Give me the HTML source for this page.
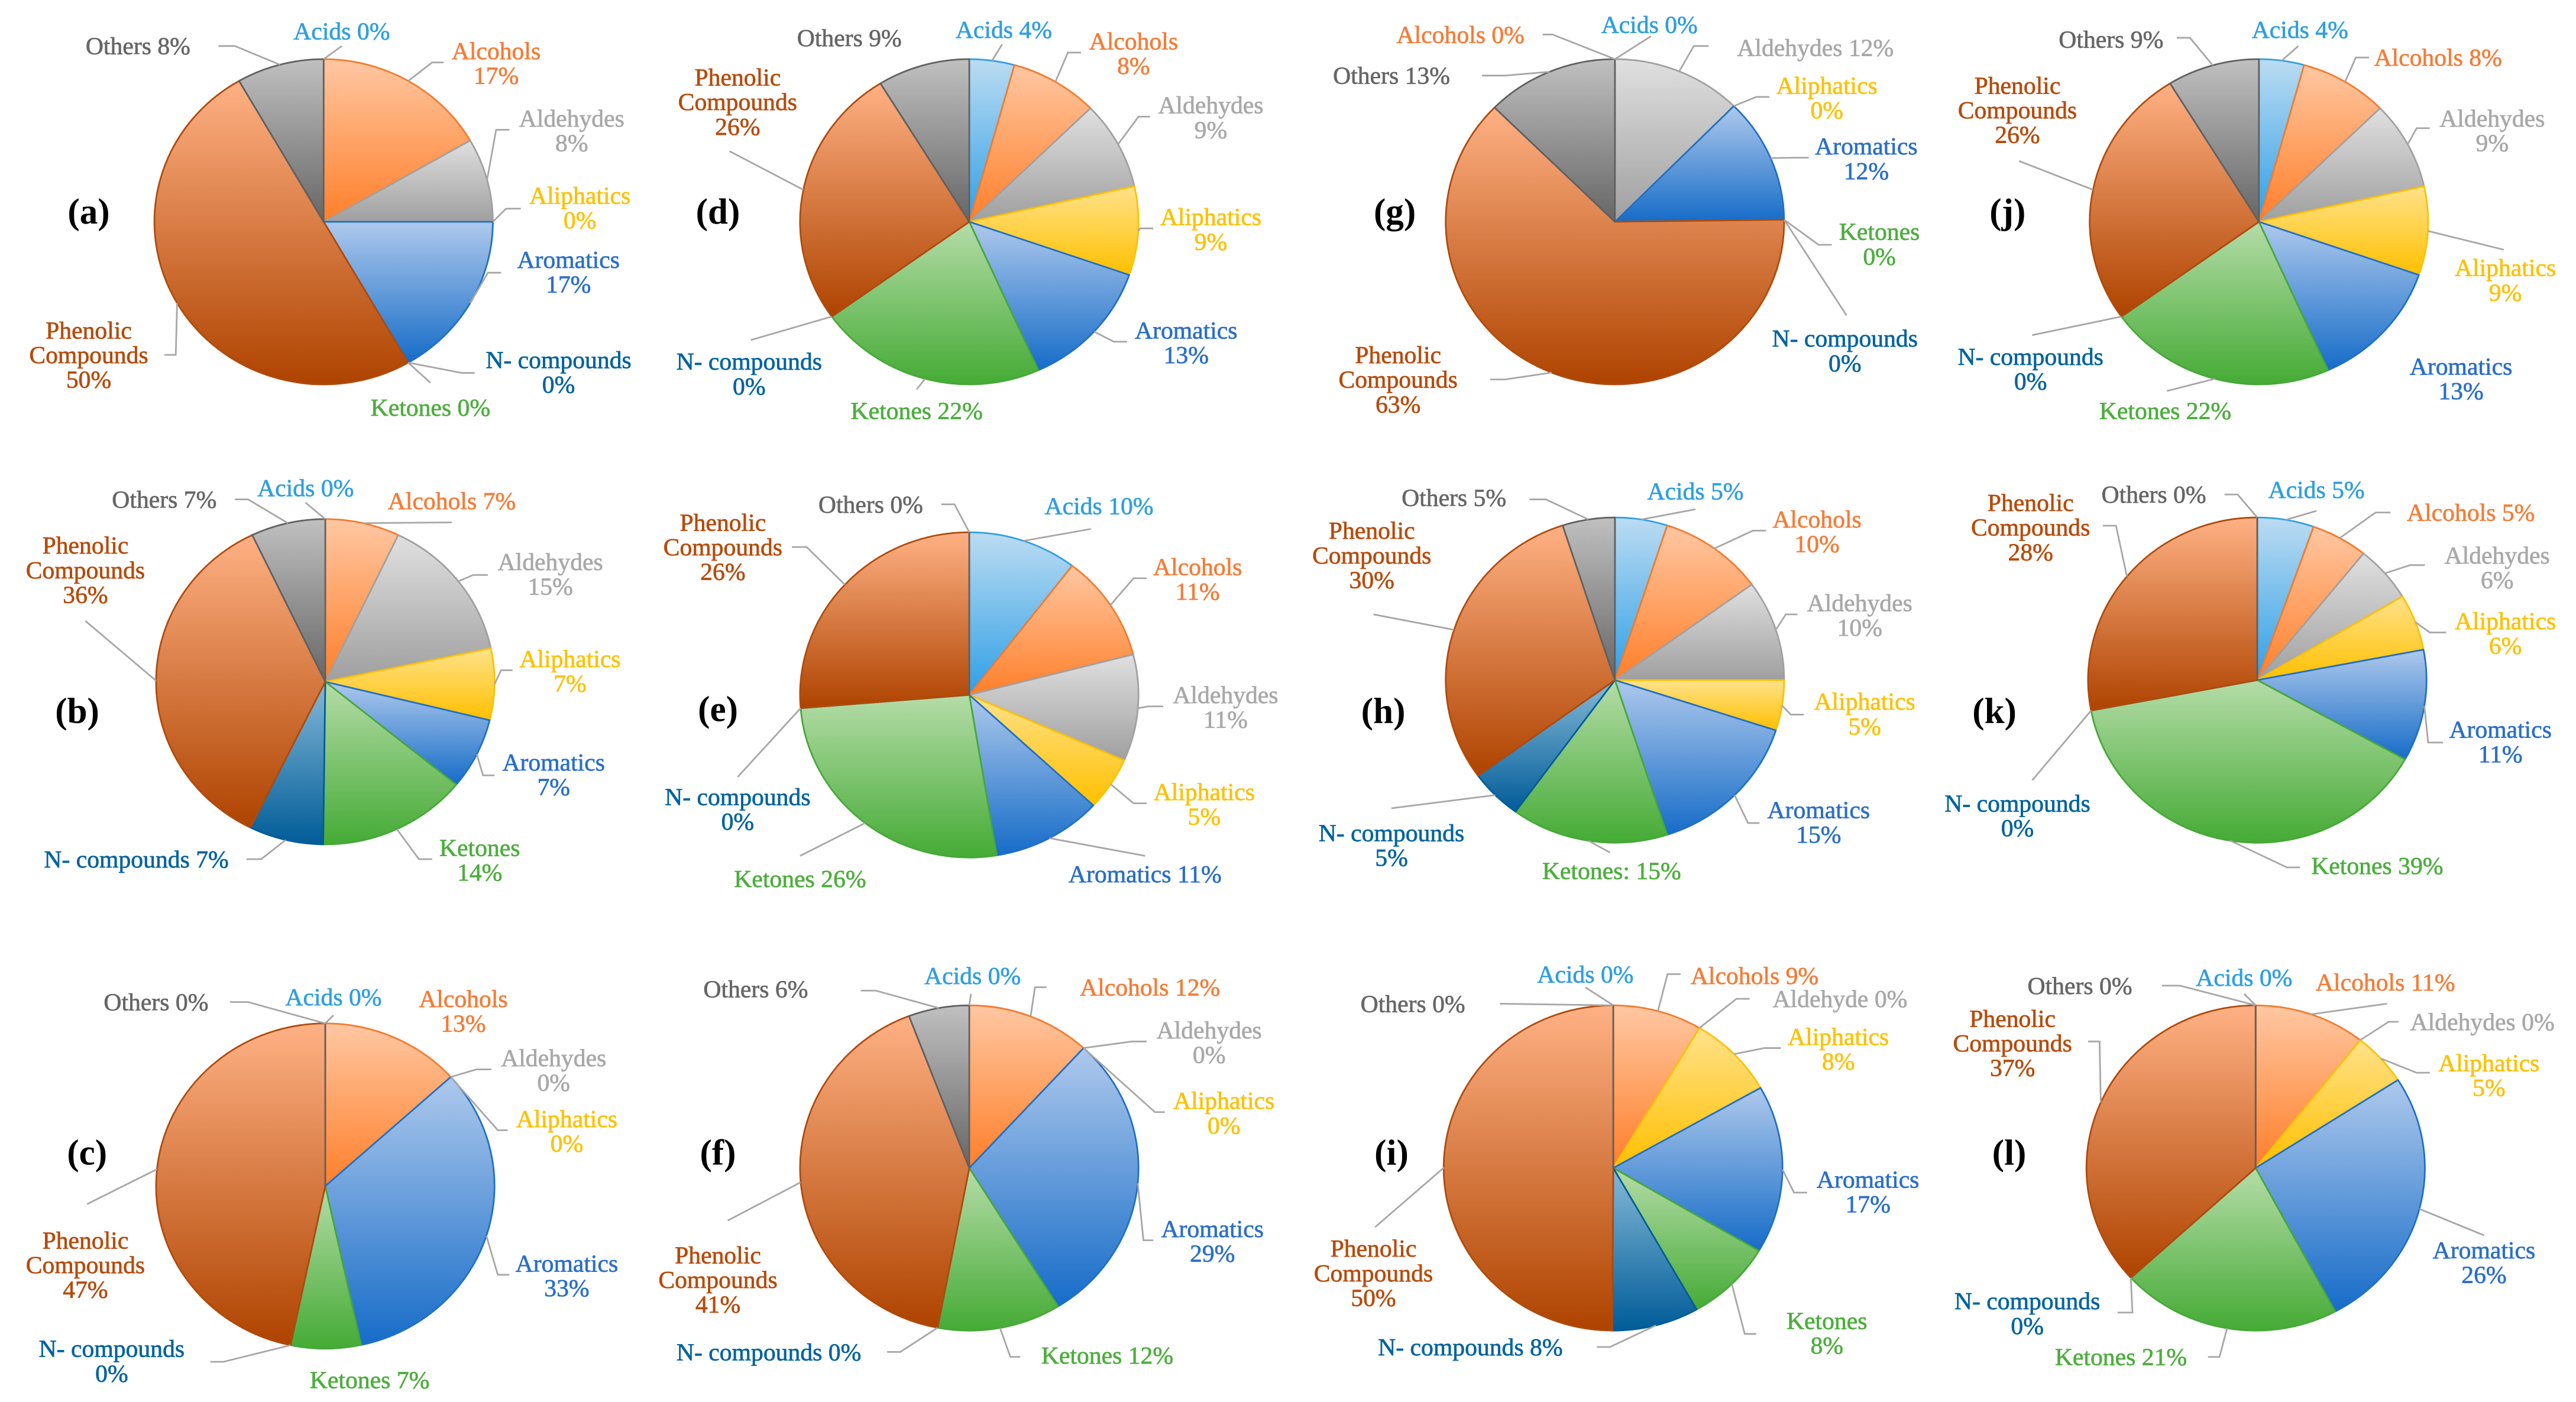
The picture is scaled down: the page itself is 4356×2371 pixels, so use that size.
<!DOCTYPE html>
<html lang="en">
<head>
<meta charset="utf-8">
<title>Product distribution pie charts</title>
<style>
html,body{margin:0;padding:0;background:#fff;}
svg{display:block;}
.lbl{font-family:"Liberation Serif",serif;font-size:15px;text-anchor:middle;stroke-width:.25px;}
.tag{font-family:"Liberation Serif",serif;font-size:22px;font-weight:700;text-anchor:middle;fill:#000;}
</style>
</head>
<body>
<svg id="chart" xmlns="http://www.w3.org/2000/svg" width="4356" height="2371" viewBox="0 0 1568 853.45">
<rect width="1568" height="853.45" fill="#fff"/>
<defs id="defs"></defs>
</svg>
<script>
// ---------- data ----------
const categories = ['Acids','Alcohols','Aldehydes','Aliphatics','Aromatics','Ketones','N- compounds','Phenolic Compounds','Others'];
const panelIds = ['a','b','c','d','e','f','g','h','i','j','k','l'];
const valuesA = [0,16.67,8.33,0,16.67,0,0,50,8.33];
const valuesB = [0,7.1,14.6,7.1,7.1,14.3,7.1,35.6,7.1];
const valuesC = [0,13.3,0,0,33.3,6.7,0,46.7,0];
const valuesD = [4.3,8.4,8.8,8.8,13,21.8,0,26.1,8.8];
const valuesE = [10.4,10.6,10.6,5.3,10.5,26.3,0,26.3,0];
const valuesF = [0,11.8,0,0,29.4,11.8,0,41.2,5.8];
const valuesG = [0,0,12.4,0,12.4,0,0,62.6,12.6];
const valuesH = [5,10,10,5,15,15,5,30,5];
const valuesI = [0,8.5,0,8.3,16.7,8.3,8.3,49.9,0];
const valuesJ = [4.3,8.4,8.8,8.8,13,21.8,0,26.1,8.8];
const valuesK = [5.4,5.4,5.6,5.6,11.1,38.9,0,28,0];
const valuesL = [0,10.6,0,5.3,26.3,21,0,36.8,0];
const nameOverrides = {h:{5:'Ketones:'}, i:{2:'Aldehyde'}};

// ---------- styling ----------
const gradientTops    = ['#bcdcf2','#ffc7a2','#e0e0e0','#ffe28a','#aec9ec','#b5dca8','#86b9d8','#ffb184','#c0c0c0'];
const gradientBottoms = ['#2f9fe6','#ff7f2a','#9f9f9f','#ffc000','#166cc8','#45ab35','#005c98','#ae4300','#666666'];
const sliceStrokes    = ['#2f9fe6','#f57a2c','#a0a0a0','#ffc000','#1f6fc8','#47a838','#005c98','#b04a0c','#606060'];
const labelColors     = ['#2f9fe0','#f57c37','#a8a8a8','#ffc000','#2a6fc9','#4cae3d','#00639f','#b84a0a','#666666'];

// ---------- layout (view units): pie centre and tag position ----------
const frameOf = {
  a:{cx:197,cy:135,tx:54,ty:129}, b:{cx:198,cy:415,tx:47,ty:433}, c:{cx:198,cy:722,tx:53,ty:702},
  d:{cx:590,cy:135,tx:437,ty:129}, e:{cx:590,cy:423,tx:437,ty:432}, f:{cx:590,cy:711,tx:437,ty:702},
  g:{cx:983,cy:135,tx:849,ty:129}, h:{cx:983,cy:414,tx:842,ty:433}, i:{cx:982,cy:711,tx:847,ty:702},
  j:{cx:1375,cy:135,tx:1222,ty:129}, k:{cx:1374,cy:414,tx:1214,ty:433}, l:{cx:1373,cy:711,tx:1223,ty:702}
};
const pieRx = 103, pieRy = 99;

// label placement per category: [textX, firstLineY, broken?, elbowX, elbowY, endX, endY]; null elbow = no leader
const placeOf = {
  a:[[208,19,0,208,28,208,28],[302,31,1,263,38,270,38],[348,72,1,302,79,310,79],[353,119,1,308,127,317,127],[346,158,1,297,166,305,166],[262,248,0,262,233,262,233],[340,219,1,281,227,289,227],[54,201,1,107,216,100,216],[84,28,0,143,28,133,28]],
  b:[[186,297,0,186,306,186,306],[275,305,0,275,318,275,318],[335,342,1,288,350,297,350],[347,401,1,305,408,312,408],[337,464,1,294,472,301,472],[292,516,1,255,523,263,523],[83,523,0,159,523,150,523],[52,332,1,52,378,52,378],[100,304,0,151,304,143,304]],
  c:[[203,607,0,203,618,203,618],[282,608,1,null,0,0,0],[337,644,1,290,651,299,651],[345,681,1,303,688,309,688],[345,769,1,303,776,310,776],[225,840,0,null,0,0,0],[68,821,1,136,829,128,829],[52,755,1,53,733,53,733],[95,610,0,151,610,140,610]],
  d:[[611,18,0,610,27,610,27],[690,25,1,650,32,658,32],[737,64,1,693,71,700,71],[737,132,1,694,139,702,139],[722,201,1,678,208,686,208],[558,250,0,558,237,558,237],[456,220,1,457,207,457,207],[449,47,1,444,92,444,92],[517,23,0,null,0,0,0]],
  e:[[669,308,0,664,322,664,322],[729,345,1,690,352,698,352],[746,423,1,699,430,708,430],[733,482,1,690,489,698,489],[697,532,0,697,521,697,521],[487,535,0,487,521,487,521],[449,485,1,449,473,449,473],[440,318,1,491,333,482,333],[530,307,0,581,307,573,307]],
  f:[[592,594,0,591,605,591,605],[700,601,0,630,601,637,601],[736,627,1,689,634,698,634],[745,670,1,703,677,709,677],[738,748,1,696,755,702,755],[674,825,0,615,826,621,826],[468,823,0,548,823,540,823],[437,764,1,443,743,443,743],[460,602,0,533,603,524,603]],
  g:[[1004,15,0,1005,22,1005,22],[889,21,0,945,21,939,21],[1105,29,0,1031,28,1040,28],[1112,52,1,1069,59,1077,59],[1136,89,1,1091,96,1101,96],[1144,141,1,1107,149,1115,149],[1123,206,1,1124,192,1124,192],[851,216,1,916,231,907,231],[847,46,0,916,46,902,46]],
  h:[[1032,299,0,1032,310,1032,310],[1106,316,1,1067,323,1075,323],[1132,367,1,1087,374,1094,374],[1135,427,1,1090,435,1098,435],[1107,493,1,1064,501,1071,501],[981,530,0,980,519,980,519],[847,507,1,847,492,847,492],[835,323,1,836,374,836,374],[885,303,0,941,304,931,304]],
  i:[[965,593,0,965,601,965,601],[1068,594,0,1015,593,1023,593],[1120,608,0,1057,608,1065,608],[1119,631,1,1074,638,1084,638],[1137,718,1,1092,726,1100,726],[1112,804,1,1062,812,1069,812],[895,820,0,980,820,972,820],[836,760,1,837,747,837,747],[860,611,0,913,611,913,611]],
  j:[[1400,18,0,1399,28,1399,28],[1484,35,0,1434,35,1442,35],[1517,72,1,1471,78,1479,78],[1525,163,1,1524,152,1524,152],[1498,223,1,null,0,0,0],[1318,250,0,1319,238,1319,238],[1236,217,1,1237,204,1237,204],[1228,52,1,1229,98,1229,98],[1285,24,0,1333,23,1325,23]],
  k:[[1410,298,0,1410,311,1410,311],[1504,312,0,1446,312,1455,312],[1520,338,1,1467,344,1476,344],[1525,378,1,1479,385,1489,385],[1522,444,1,1478,452,1487,452],[1447,527,0,1392,528,1400,528],[1228,489,1,1237,475,1237,475],[1236,306,1,1288,320,1280,320],[1311,301,0,1362,301,1354,301]],
  l:[[1366,595,0,1366,605,1366,605],[1452,598,0,1453,611,1453,611],[1511,622,0,1454,622,1460,622],[1515,647,1,1471,653,1479,653],[1512,761,1,1512,752,1512,752],[1291,826,0,1351,826,1344,826],[1234,792,1,1298,799,1289,799],[1225,620,1,1278,634,1271,634],[1266,600,0,1327,600,1316,600]]
};

const valuesOf = {a:valuesA,b:valuesB,c:valuesC,d:valuesD,e:valuesE,f:valuesF,g:valuesG,h:valuesH,i:valuesI,j:valuesJ,k:valuesK,l:valuesL};

// ---------- drawing ----------
const NS = 'http://www.w3.org/2000/svg';
const svg = document.getElementById('chart');
const defs = document.getElementById('defs');

function slug(s){ return s.toLowerCase().replace(/[^a-z]+/g,'-').replace(/-$/,''); }
function angleOf(share){ return share * 2 * Math.PI; }
function rimX(f, share){ return f.cx + pieRx * Math.sin(angleOf(share)); }
function rimY(f, share){ return f.cy - pieRy * Math.cos(angleOf(share)); }

categories.forEach(function(c, i){
  const g = document.createElementNS(NS,'linearGradient');
  g.setAttribute('id','grad'+i);
  g.setAttribute('x1','0'); g.setAttribute('y1','0'); g.setAttribute('x2','0'); g.setAttribute('y2','1');
  const s1 = document.createElementNS(NS,'stop');
  s1.setAttribute('offset','0'); s1.setAttribute('stop-color',gradientTops[i]);
  const s2 = document.createElementNS(NS,'stop');
  s2.setAttribute('offset','1'); s2.setAttribute('stop-color',gradientBottoms[i]);
  g.appendChild(s1); g.appendChild(s2);
  defs.appendChild(g);
});

panelIds.forEach(function(id){
  const vals = valuesOf[id];
  const f = frameOf[id];
  const total = vals.reduce(function(a,b){return a+b;},0);

  const group = document.createElementNS(NS,'g');
  
  
  svg.appendChild(group);

  let acc = 0;
  const mids = [];
  vals.forEach(function(v, i){
    const start = acc / total;
    acc += v;
    const end = acc / total;
    mids.push((start + end) / 2);
    const large = (end - start) > 0.5 ? 1 : 0;
    const p = document.createElementNS(NS,'path');
    // a zero-valued slice collapses to a thin radial border line, as in the source chart
    const arc = v > 0 ? 'A'+pieRx+' '+pieRy+' 0 '+large+' 1 '+rimX(f,end).toFixed(2)+' '+rimY(f,end).toFixed(2) : '';
    p.setAttribute('d','M'+f.cx+' '+f.cy+'L'+rimX(f,start).toFixed(2)+' '+rimY(f,start).toFixed(2)+arc+'Z');
    p.setAttribute('fill','url(#grad'+i+')');
    p.setAttribute('stroke',sliceStrokes[i]);
    p.setAttribute('stroke-width','1');
    p.setAttribute('stroke-linejoin','round');
    
    
    group.appendChild(p);
  });

  vals.forEach(function(v, i){
    const spot = placeOf[id][i];
    if (spot[3] !== null) {
      const line = document.createElementNS(NS,'polyline');
      line.setAttribute('points',rimX(f,mids[i]).toFixed(2)+','+rimY(f,mids[i]).toFixed(2)+' '+spot[3]+','+spot[4]+' '+spot[5]+','+spot[6]);
      line.setAttribute('fill','none');
      line.setAttribute('stroke','#a6a6a6');
      line.setAttribute('stroke-width','1');
      
      
      group.appendChild(line);
    }

    const over = nameOverrides[id] && nameOverrides[id][i];
    const name = over || categories[i];
    const pct = Math.round(v) + '%';
    let rows;
    if (i === 7) rows = ['Phenolic','Compounds',pct];
    else if (spot[2]) rows = [name,pct];
    else rows = [name + ' ' + pct];

    const t = document.createElementNS(NS,'text');
    t.setAttribute('class','lbl');
    t.setAttribute('fill',labelColors[i]);
    t.setAttribute('stroke',labelColors[i]);
    
    
    rows.forEach(function(r, k){
      const s = document.createElementNS(NS,'tspan');
      s.setAttribute('x',spot[0]);
      s.setAttribute('y',spot[1] + 5 + k * 15);
      s.textContent = r;
      t.appendChild(s);
    });
    group.appendChild(t);
  });

  const tag = document.createElementNS(NS,'text');
  tag.setAttribute('class','tag');
  tag.setAttribute('x',f.tx);
  tag.setAttribute('y',f.ty + 7);
  
  
  tag.textContent = '(' + id + ')';
  group.appendChild(tag);
});
</script>
</body>
</html>
